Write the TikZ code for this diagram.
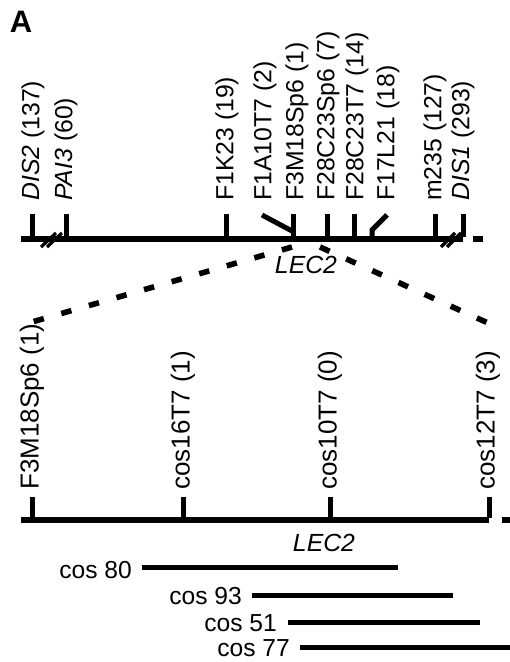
\documentclass[tikz,border=0pt]{standalone}
\usepackage{fontspec}
\setmainfont{Liberation Sans}
\begin{document}
\begin{tikzpicture}[x=1pt,y=1pt,
  mainline/.style={line width=5.4pt},
  tickmark/.style={line width=5pt},
  breakmark/.style={line width=3.2pt},
  dashline/.style={line width=5.6pt, dash pattern=on 10.5pt off 18.2pt},
  cosline/.style={line width=5pt},
  toplbl/.style={rotate=90, anchor=west, inner sep=0pt, font=\fontsize{24.8}{28}\selectfont},
  botlbl/.style={rotate=90, anchor=west, inner sep=0pt, font=\fontsize{26}{30}\selectfont},
  coslbl/.style={anchor=east, inner sep=0pt, font=\fontsize{24.6}{28}\selectfont},
  genelbl/.style={inner sep=0pt, font=\itshape\fontsize{24.8}{28}\selectfont}
]
\useasboundingbox (0,0) rectangle (510,662);

% panel letter
\node[inner sep=0pt, font=\bfseries\fontsize{31}{36}\selectfont] (panelA) at (21,640) {A};

% ---------- top map ----------
\coordinate (T1s) at (21,423);
\coordinate (T1e) at (463,423);
\draw[mainline] (T1s) -- (T1e);
\coordinate (T1ds) at (473,423);
\coordinate (T1de) at (483,423);
\draw[mainline] (T1ds) -- (T1de);

\foreach \n/\x in {dis2/32, pai3/66, f1k23/226, f3m/293, f28sp/327, f28t/354, m235/435, dis1/463}{
  \coordinate (\n b) at (\x,425);
  \coordinate (\n t) at (\x,448);
  \draw[tickmark] (\n t) -- (\n b);
}
% F1A10T7 diagonal
\coordinate (f1at) at (262,447);
\coordinate (f1ab) at (292,431);
\draw[tickmark] (f1at) -- (f1ab);
% F17L21 bent tick
\coordinate (f17b) at (372,425);
\coordinate (f17m) at (372,432);
\coordinate (f17t) at (387,447);
\draw[tickmark] (f17b) -- (f17m) -- (f17t);

% break marks
\coordinate (bk1a) at (41,415); \coordinate (bk1b) at (56,429);
\coordinate (bk2a) at (47,415); \coordinate (bk2b) at (62,429);
\draw[breakmark] (bk1a) -- (bk1b);
\draw[breakmark] (bk2a) -- (bk2b);
\coordinate (bk3a) at (441,415); \coordinate (bk3b) at (455,429);
\coordinate (bk4a) at (447,415); \coordinate (bk4b) at (461,429);
\draw[breakmark] (bk3a) -- (bk3b);
\draw[breakmark] (bk4a) -- (bk4b);

% top labels
\node[toplbl] (ldis2) at (33,461) {\textit{DIS2} (137)};
\node[toplbl] (lpai3) at (66,461) {\textit{PAI3} (60)};
\node[toplbl] (lf1k23) at (227,461) {F1K23 (19)};
\node[toplbl] (lf1a) at (265,461) {F1A10T7 (2)};
\node[toplbl] (lf3m) at (297,461) {F3M18Sp6 (1)};
\node[toplbl] (lf28sp) at (328,461) {F28C23Sp6 (7)};
\node[toplbl] (lf28t) at (357,461) {F28C23T7 (14)};
\node[toplbl] (lf17) at (388,461) {F17L21 (18)};
\node[toplbl] (lm235) at (435,461) {m235 (127)};
\node[toplbl] (ldis1) at (463,461) {\textit{DIS1} (293)};

\node[genelbl] (lec2top) at (306,397) {LEC2};

% ---------- zoom dashed lines ----------
\coordinate (dl1) at (292,415);
\coordinate (dl2) at (32,340);
\coordinate (dr1) at (320,415);
\coordinate (dr2) at (488,339);
\draw[dashline] (dl1) -- (dl2);
\draw[dashline] (dr1) -- (dr2);

% ---------- bottom map ----------
\coordinate (B1s) at (21,142);
\coordinate (B1e) at (489,142);
\draw[mainline] (B1s) -- (B1e);
\coordinate (B1ds) at (502,142);
\coordinate (B1de) at (510,142);
\draw[mainline] (B1ds) -- (B1de);

\foreach \n/\x in {bf3m/32, c16/183, c10/330, c12/489}{
  \coordinate (\n b) at (\x,144);
  \coordinate (\n t) at (\x,165);
  \draw[tickmark] (\n t) -- (\n b);
}

\node[botlbl] (lbf3m) at (32,172) {F3M18Sp6 (1)};
\node[botlbl] (lc16) at (183,172) {cos16T7 (1)};
\node[botlbl] (lc10) at (330,172) {cos10T7 (0)};
\node[botlbl] (lc12) at (488,172) {cos12T7 (3)};

\node[genelbl] (lec2bot) at (324,119) {LEC2};

% ---------- cosmids ----------
\node[coslbl] (c80) at (132,92) {cos 80};
\coordinate (c80s) at (142,94); \coordinate (c80e) at (398,94);
\draw[cosline] (c80s) -- (c80e);

\node[coslbl] (c93) at (242,66) {cos 93};
\coordinate (c93s) at (252,66); \coordinate (c93e) at (453,66);
\draw[cosline] (c93s) -- (c93e);

\node[coslbl] (c51) at (277,39) {cos 51};
\coordinate (c51s) at (288,39); \coordinate (c51e) at (480,39);
\draw[cosline] (c51s) -- (c51e);

\node[coslbl] (c77) at (290,14) {cos 77};
\coordinate (c77s) at (300,14); \coordinate (c77e) at (510,14);
\draw[cosline] (c77s) -- (c77e);
\end{tikzpicture}
\end{document}
